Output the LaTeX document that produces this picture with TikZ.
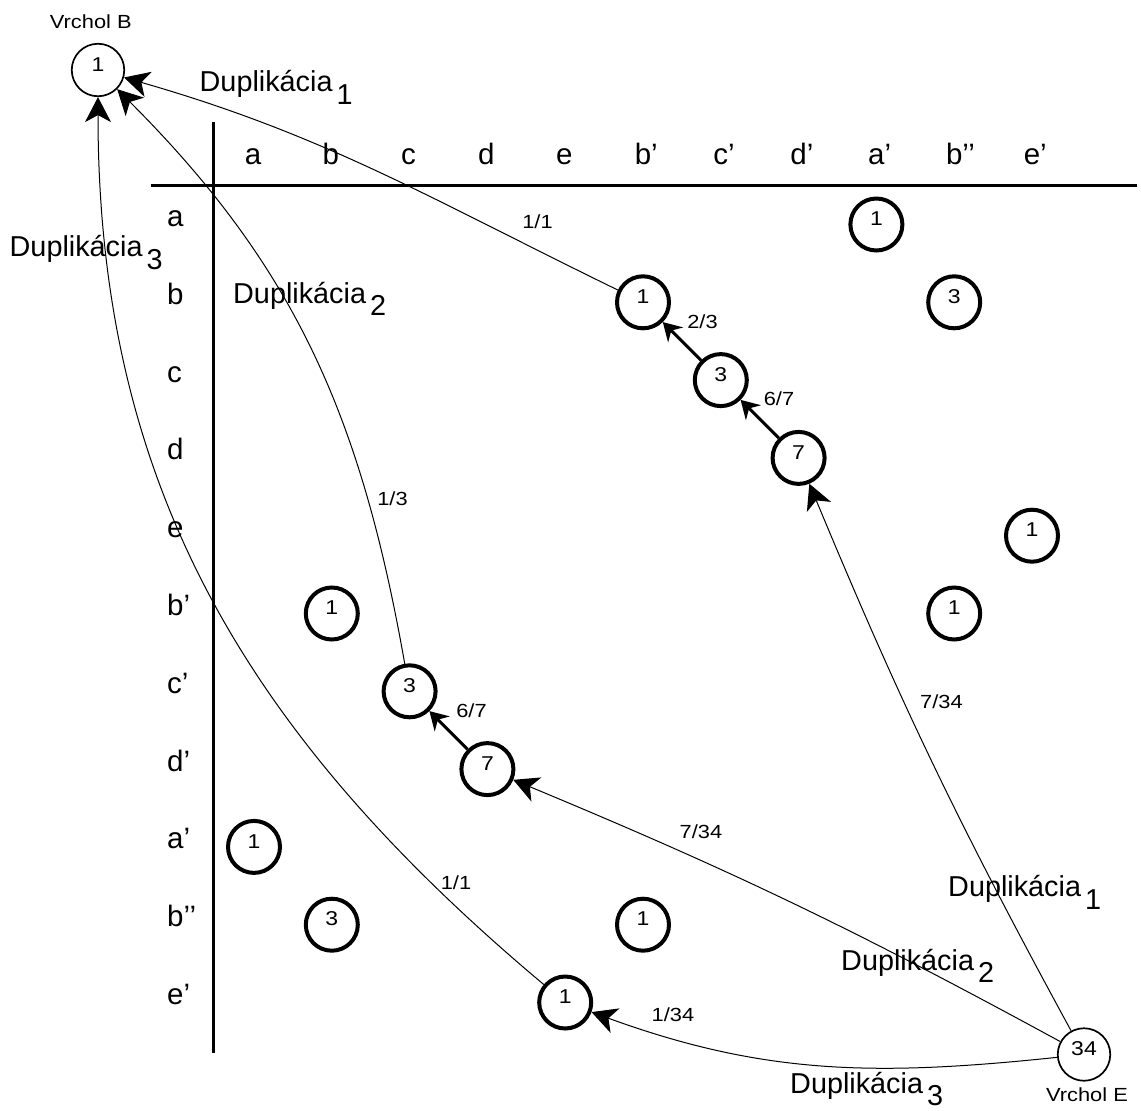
\documentclass[tikz,border=0pt]{standalone}
\usepackage{fontspec}
\setmainfont{Liberation Sans}
\newfontfamily\narrowfont{Liberation Sans}[FakeStretch=1.15]
\usetikzlibrary{arrows.meta}
\newcommand{\dupl}[1]{Duplikácia\hspace{4pt}\raisebox{-12.5pt}{#1}}
\begin{document}
\begin{tikzpicture}[x=1pt,y=1pt,
  big/.style={font=\fontsize{29.5}{31}\selectfont, inner sep=0pt},
  duplabel/.style={font=\fontsize{28.8}{30}\selectfont, inner sep=0pt, anchor=base west},
  small/.style={font=\narrowfont\fontsize{19}{21}\selectfont, inner sep=0pt, text depth=0pt},
  cell/.style={circle, draw, line width=4pt, minimum size=52pt, inner sep=0pt,
    font=\narrowfont\fontsize{20}{22}\selectfont, text height=14.3pt, text depth=12pt},
  vertex/.style={cell, line width=1.7pt, minimum size=52.5pt},
  axis/.style={line width=2.7pt},
  link/.style={line width=1pt, -{Stealth[length=25pt,width=26pt,inset=7pt]}},
  chain/.style={line width=3pt, -{Stealth[length=18pt,width=21pt,inset=6pt]}}
]
\useasboundingbox (0,0) rectangle (1141,-1111);

% table axes
\coordinate (vtop) at (213.3,-121.7);
\coordinate (vbot) at (213.3,-1053);
\coordinate (hleft) at (150.7,-185.7);
\coordinate (hright) at (1137,-185.7);
\draw[axis] (vtop) -- (vbot);
\draw[axis] (hleft) -- (hright);

% column headings
\node[big, anchor=base] (h-a)  at (253,-164)   {a};
\node[big, anchor=base] (h-b)  at (330.8,-164) {b};
\node[big, anchor=base] (h-c)  at (408.6,-164) {c};
\node[big, anchor=base] (h-d)  at (486.4,-164) {d};
\node[big, anchor=base] (h-e)  at (564.2,-164) {e};
\node[big, anchor=base] (h-b2) at (643,-164)   {b\rlap{’}};
\node[big, anchor=base] (h-c2) at (720.8,-164) {c\rlap{’}};
\node[big, anchor=base] (h-d2) at (798.6,-164) {d\rlap{’}};
\node[big, anchor=base] (h-a2) at (876.4,-164) {a\rlap{’}};
\node[big, anchor=base] (h-b3) at (954.2,-164) {b\rlap{’’}};
\node[big, anchor=base] (h-e2) at (1032,-164)  {e\rlap{’}};

% row headings
\node[big, anchor=base west] (r-a)  at (167,-226.5)  {a};
\node[big, anchor=base west] (r-b)  at (167,-304.3)  {b};
\node[big, anchor=base west] (r-c)  at (167,-382.1)  {c};
\node[big, anchor=base west] (r-d)  at (167,-459.9)  {d};
\node[big, anchor=base west] (r-e)  at (167,-537.7)  {e};
\node[big, anchor=base west] (r-b2) at (167,-615.5)  {b’};
\node[big, anchor=base west] (r-c2) at (167,-693.3)  {c’};
\node[big, anchor=base west] (r-d2) at (167,-771.1)  {d’};
\node[big, anchor=base west] (r-a2) at (167,-848.9)  {a’};
\node[big, anchor=base west] (r-b3) at (167,-926.7)  {b’’};
\node[big, anchor=base west] (r-e2) at (167,-1004.5) {e’};

% matching cells
\node[cell] (n-a-a2)  at (876.4,-224.5)  {1};
\node[cell] (n-b-b2)  at (643,-302.3)    {1};
\node[cell] (n-b-b3)  at (954.2,-302.3)  {3};
\node[cell] (n-c-c2)  at (720.8,-380.1)  {3};
\node[cell] (n-d-d2)  at (798.6,-457.9)  {7};
\node[cell] (n-e-e2)  at (1032,-535.7)   {1};
\node[cell] (n-b2-b)  at (331.8,-613.5)  {1};
\node[cell] (n-b2-b3) at (954.2,-613.5)  {1};
\node[cell] (n-c2-c)  at (409.6,-691.3)  {3};
\node[cell] (n-d2-d)  at (487.4,-769.1)  {7};
\node[cell] (n-a2-a)  at (254,-846.9)    {1};
\node[cell] (n-b3-b)  at (331.8,-924.7)  {3};
\node[cell] (n-b3-b2) at (643,-924.7)    {1};
\node[cell] (n-e2-e)  at (565.2,-1002.5) {1};

% start and end vertices
\node[vertex] (vB) at (98,-70) {1};
\node[small, anchor=base] (vB-lab) at (90.8,-28.3) {Vrchol B};
\node[vertex] (vE) at (1084,-1054.5) {34};
\node[small, anchor=base] (vE-lab) at (1087,-1101.7) {Vrchol E};

% paths through the table
\draw[chain] (n-c-c2) -- (n-b-b2);
\draw[chain] (n-d-d2) -- (n-c-c2);
\draw[chain] (n-d2-d) -- (n-c2-c);

\draw[link] (n-b-b2) to[out=154,in=-16] (vB);
\draw[link] (n-c2-c) to[out=100,in=-45] (vB);
\draw[link] (n-e2-e) to[out=140,in=-90] (vB);
\draw[link] (vE) to[bend left=3] (n-d-d2);
\draw[link] (vE) to[bend right=3] (n-d2-d);
\draw[link] (vE) to[out=186,in=-20] (n-e2-e);

% edge weights
\node[small] (w1) at (537.5,-222)  {1/1};
\node[small] (w2) at (702.5,-321.5) {2/3};
\node[small] (w3) at (779,-399)    {6/7};
\node[small] (w4) at (392.5,-498.5) {1/3};
\node[small] (w5) at (471.5,-710.5) {6/7};
\node[small] (w6) at (941.5,-702)  {7/34};
\node[small] (w7) at (701,-832)    {7/34};
\node[small] (w8) at (456,-883)    {1/1};
\node[small] (w9) at (673,-1014.5) {1/34};

% duplication labels
\node[duplabel] (d1a) at (199.5,-91.7)  {\dupl{1}};
\node[duplabel] (d3a) at (9.5,-256.7)   {\dupl{3}};
\node[duplabel] (d2a) at (233,-303.3)   {\dupl{2}};
\node[duplabel] (d1b) at (948,-896.7)   {\dupl{1}};
\node[duplabel] (d2b) at (841,-970)     {\dupl{2}};
\node[duplabel] (d3b) at (790,-1093)    {\dupl{3}};
\end{tikzpicture}
\end{document}
